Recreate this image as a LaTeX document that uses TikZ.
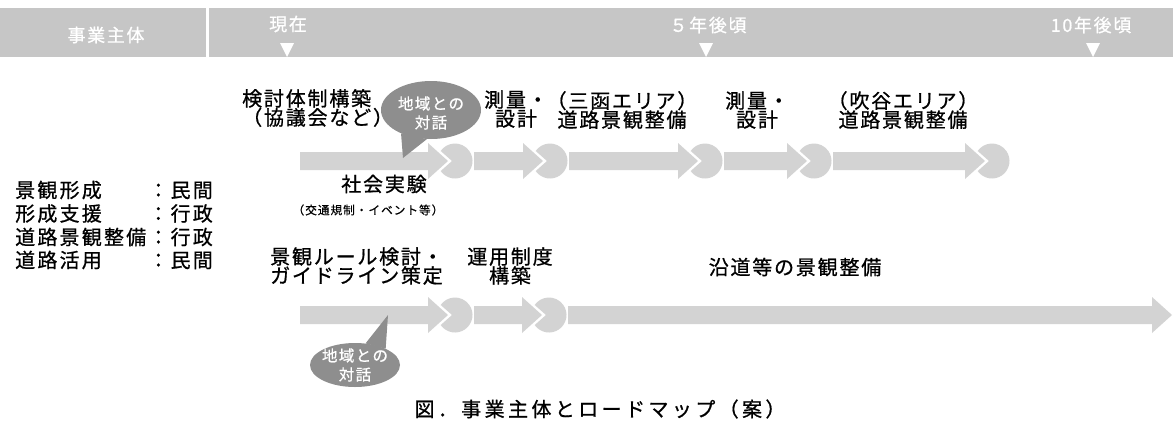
\documentclass[tikz,border=0pt]{standalone}
\usepackage{fontspec}
\newfontfamily\jp[LetterSpace=9,FakeBold=0.8]{Noto Sans CJK JP}
\usetikzlibrary{shapes.geometric}
\definecolor{bandgray}{HTML}{C6C6C6}
\definecolor{arrowgray}{HTML}{D3D3D3}
\definecolor{bubblegray}{HTML}{8E8E8E}
\newcommand\tlarrow[3]{% shaft start, head base, centre y
  \fill[arrowgray] (#1,#3-9) -- (#2,#3-9) -- (#2,#3-18) -- (#2+20,#3) -- (#2,#3+18) -- (#2,#3+9) -- (#1,#3+9) -- cycle;}
\newcommand\tldisk[2]{% head base, centre y
  \fill[arrowgray] (#1+24,#2) -- ({#1+27+17.5*cos(145)},{#2+17.5*sin(145)}) arc[start angle=145, end angle=-145, radius=17.5] -- cycle;}
\begin{document}
\begin{tikzpicture}[x=1pt,y=-1pt,
  lbl/.style={font=\jp\fontsize{20}{19}\selectfont, inner sep=0pt, align=center},
  lbll/.style={lbl, align=left, anchor=west},
  small/.style={font=\jp\fontsize{11.6}{13}\selectfont, inner sep=0pt},
  leg/.style={font=\jp\addfontfeature{LetterSpace=11}\fontsize{20}{20}\selectfont, inner sep=0pt, anchor=west},
  bub/.style={ellipse, fill=bubblegray, inner sep=0pt},
  btxt/.style={text=white, font=\jp\fontsize{15.5}{19}\selectfont, align=center, inner sep=0pt},
  hdr/.style={text=white, font=\jp\fontsize{18}{18}\selectfont, inner sep=0pt},
  captext/.style={font=\jp\addfontfeature{LetterSpace=17}\fontsize{20}{20}\selectfont, inner sep=0pt}]
\useasboundingbox (0,0) rectangle (1173,432);
% header band
\fill[bandgray] (0,8) rectangle (206,57);
\fill[bandgray] (209,8) rectangle (1173,57);
\node[hdr] (h0) at (106,35) {事業主体};
\node[hdr] (h1) at (288,24) {現在};
\node[hdr] (h2) at (708,25) {５年後頃};
\node[hdr] (h3) at (1091,25) {10年後頃};
\fill[white] (280,43) -- (294,43) -- (287,57) -- cycle;
\fill[white] (699,43) -- (713,43) -- (706,57) -- cycle;
\fill[white] (1086,43) -- (1100,43) -- (1093,57) -- cycle;
% top timeline
\tlarrow{300}{428}{161} \tldisk{428}{161}
\tlarrow{474}{523}{161} \tldisk{523}{161}
\tlarrow{569}{678}{161} \tldisk{678}{161}
\tlarrow{724}{787}{161} \tldisk{787}{161}
\tlarrow{833}{965}{161} \tldisk{965}{161}
% bottom timeline
\tlarrow{300}{428}{315} \tldisk{428}{315}
\tlarrow{474}{522}{315} \tldisk{522}{315}
\tlarrow{568}{1152}{315}
% top labels
\node[lbll] (t1) at (242,108) {検討体制構築\\（協議会など）};
\node[lbl] (t2) at (516,109) {測量・\\設計};
\node[lbl] (t3) at (622,110) {（三函エリア）\\道路景観整備};
\node[lbl] (t4) at (757,110) {測量・\\設計};
\node[lbl] (t5) at (903,110) {（吹谷エリア）\\道路景観整備};
\node[lbl] (t6) at (384,184) {社会実験};
\node[small] (t7) at (368,210) {（交通規制・イベント等）};
% bubbles
\node[bub, minimum width=100pt, minimum height=58pt] (b1) at (431,110) {};
\coordinate (tip1) at (403,158);
\fill[bubblegray] (b1.218) -- (tip1) -- (b1.262) -- cycle;
\node[btxt] (bt1) at (431,113) {地域との\\対話};
\node[bub, minimum width=90pt, minimum height=44pt] (b2) at (355,365) {};
\coordinate (tip2) at (388,315);
\fill[bubblegray] (b2.64) -- (tip2) -- (b2.28) -- cycle;
\node[btxt] (bt2) at (355,365) {地域との\\対話};
% legend
\node[leg] (l1) at (15,190) {景観形成　　：民間};
\node[leg] (l2) at (15,213.5) {形成支援　　：行政};
\node[leg] (l3) at (15,237) {道路景観整備：行政};
\node[leg] (l4) at (15,260) {道路活用　　：民間};
% bottom labels
\node[lbll] (u1) at (270,266) {景観ルール検討・\\ガイドライン策定};
\node[lbl] (u2) at (510,266) {運用制度\\構築};
\node[lbl] (u3) at (795,267) {沿道等の景観整備};
% caption
\node[captext] (cap) at (600,409) {図．事業主体とロードマップ（案）};
\end{tikzpicture}
\end{document}
